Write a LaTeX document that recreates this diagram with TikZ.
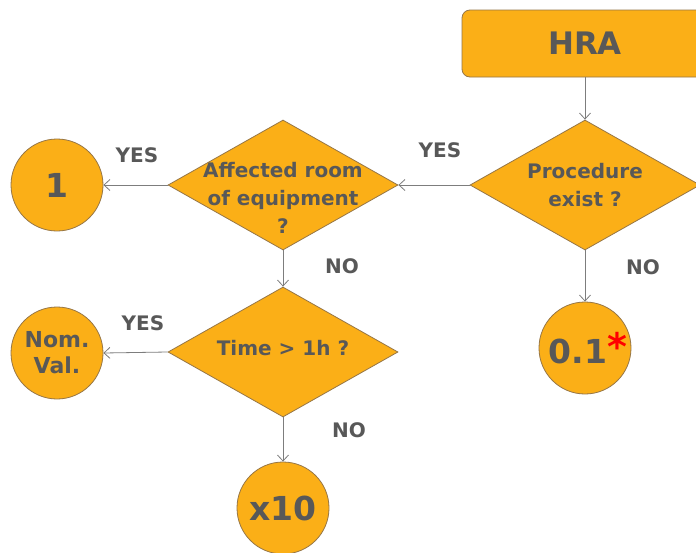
\documentclass[tikz,border=0pt]{standalone}
\usepackage{fontspec}
\setmainfont{DejaVu Sans}
\usetikzlibrary{shapes.geometric,arrows.meta}
\definecolor{fillor}{RGB}{251,175,23}
\definecolor{edgeor}{RGB}{150,118,70}
\definecolor{txtc}{RGB}{88,88,88}
\definecolor{linec}{RGB}{125,125,125}
\begin{document}
\begin{tikzpicture}[x=1pt,y=-1pt,
  decision/.style={diamond, draw=edgeor, fill=fillor, line width=0.8pt, minimum width=230pt, minimum height=130pt, inner sep=0pt},
  term/.style={circle, draw=edgeor, fill=fillor, line width=0.8pt, minimum size=92pt, inner sep=0pt, text=txtc, font=\bfseries\fontsize{33}{36}\selectfont},
  hrabox/.style={rectangle, rounded corners=8pt, draw=edgeor, fill=fillor, line width=0.8pt, minimum width=246pt, minimum height=67pt, text=txtc, font=\bfseries\fontsize{31}{34}\selectfont},
  dtext/.style={align=center, text=txtc, font=\bfseries\fontsize{20}{28}\selectfont},
  conn/.style={draw=linec, line width=0.8pt, -{Straight Barb[length=6pt,width=11pt]}},
  lbl/.style={text=txtc, font=\bfseries\fontsize{20}{22}\selectfont}]
\useasboundingbox (0,0) rectangle (696,552);
\fill[white] (0,0) rectangle (696,552);
% nodes
\node[hrabox] (hra) at (585,43.5) {HRA};
\node[decision, label={[dtext]center:Procedure\\exist ?}] (proc) at (585,185) {};
\node[decision, label={[dtext, yshift=-13pt]center:Affected room\\of equipment\\?}] (aff) at (283,185) {};
\node[decision, label={[dtext, yshift=4pt]center:Time > 1h ?}] (time) at (283,352) {};
\node[term] (one) at (57,185) {1};
\node[term, font=\bfseries\fontsize{22}{26}\selectfont, align=center] (nom) at (57,353) {Nom.\\Val.};
\node[term] (x10) at (283,508) {x10};
\node[term] (p01) at (585,348) {\hspace*{6pt}0.1\textcolor{red}{\raisebox{3pt}{\fontsize{38}{38}\selectfont *}}};
% connectors
\draw[conn] (hra.south) -- (proc.north);
\draw[conn] (proc.west) -- (aff.east);
\draw[conn] (aff.west) -- (one.east);
\draw[conn] (aff.south) -- (time.north);
\draw[conn] (time.west) -- (nom.east);
\draw[conn] (time.south) -- (x10.north);
\draw[conn] (proc.south) -- (p01.north);
% labels
\node[lbl] (l1) at (137,155) {YES};
\node[lbl] (l2) at (440,150) {YES};
\node[lbl] (l3) at (342,266) {NO};
\node[lbl] (l4) at (143,323) {YES};
\node[lbl] (l5) at (643,267) {NO};
\node[lbl] (l6) at (349,430) {NO};
\end{tikzpicture}
\end{document}
